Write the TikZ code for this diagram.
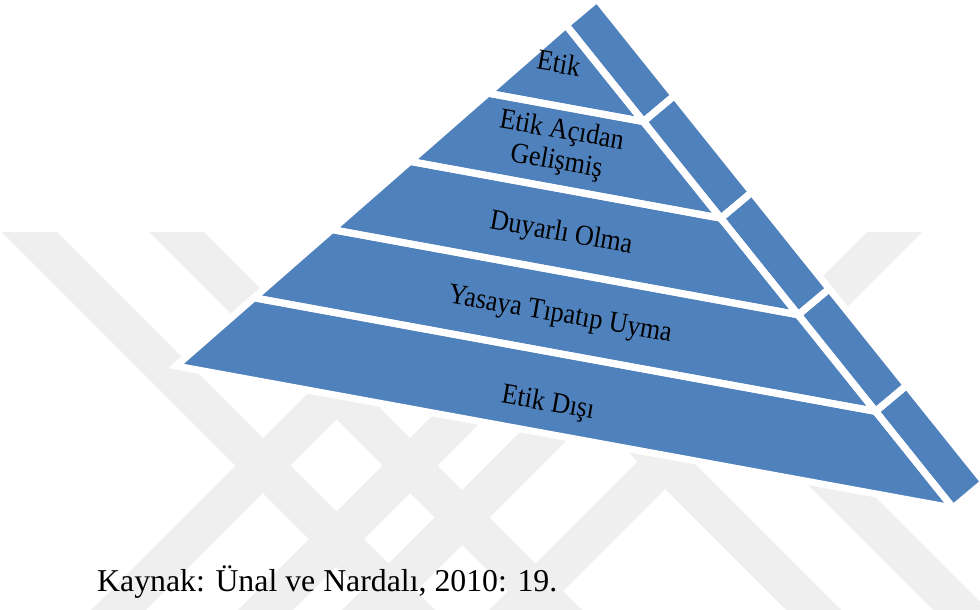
\documentclass[tikz,border=0pt]{standalone}
\usepackage{fontspec}
\setmainfont{Liberation Serif}
\usetikzlibrary{calc}
\definecolor{pyrblue}{RGB}{79,129,189}
\definecolor{wmgray}{RGB}{239,239,239}
\begin{document}
\begin{tikzpicture}[x=1pt,y=-1pt,
  layer/.style={fill=pyrblue},
  gap/.style={draw=white,line width=7pt},
  lbl/.style={font=\fontsize{29}{31}\selectfont,rotate=-10,xscale=0.9,align=center,inner sep=0pt},
  wm/.style={fill=wmgray}]
\useasboundingbox (0,0) rectangle (980,610);
\clip (0,0) rectangle (980,610);

% faint background emblem: crossing diagonal stripes
\foreach \c in {0,147,406,553}
  \path[wm] (\c+2,232) -- (\c+57,232) -- (\c+435,610) -- (\c+380,610) -- cycle;
\foreach \c in {471,618,722,869}
  \path[wm] (\c-2,232) -- (\c+53,232) -- (\c-325,610) -- (\c-380,610) -- cycle;

% corners of the front face and offset of the side face
\coordinate (A) at (566,25);
\coordinate (BL) at (176,366);
\coordinate (BR) at (953,508);
\foreach \k in {0,...,5} {
  \coordinate (L\k) at ($(A)!\k/5!(BL)$);
  \coordinate (R\k) at ($(A)!\k/5!(BR)$);
  \coordinate (S\k) at ($(R\k)+(31,-26)$);
}

% blue pieces, then white outlines that open the gaps
\foreach \st in {layer,gap} {
  \path[\st] (A) -- (L1) -- (R1) -- cycle;
  \foreach \k [evaluate=\k as \n using int(\k+1)] in {1,...,4}
    \path[\st] (L\k) -- (L\n) -- (R\n) -- (R\k) -- cycle;
  \foreach \k [evaluate=\k as \n using int(\k+1)] in {0,...,4}
    \path[\st] (R\k) -- (R\n) -- (S\n) -- (S\k) -- cycle;
}

% level labels
\node[lbl] (etik) at (559,63) {Etik};
\node[lbl] (gelismis) at (559,147) {Etik Açıdan\\Gelişmiş};
\node[lbl] (duyarli) at (561,234) {Duyarlı Olma};
\node[lbl] (yasa) at (560,316) {Yasaya Tıpatıp Uyma};
\node[lbl] (disi) at (548,404) {Etik Dışı};

% source line
\node[anchor=base west,font=\fontsize{31.8}{38}\selectfont,inner sep=0pt]
  (kaynak) at (97,591) {Kaynak: Ünal ve Nardalı, 2010: 19.};
\end{tikzpicture}
\end{document}
